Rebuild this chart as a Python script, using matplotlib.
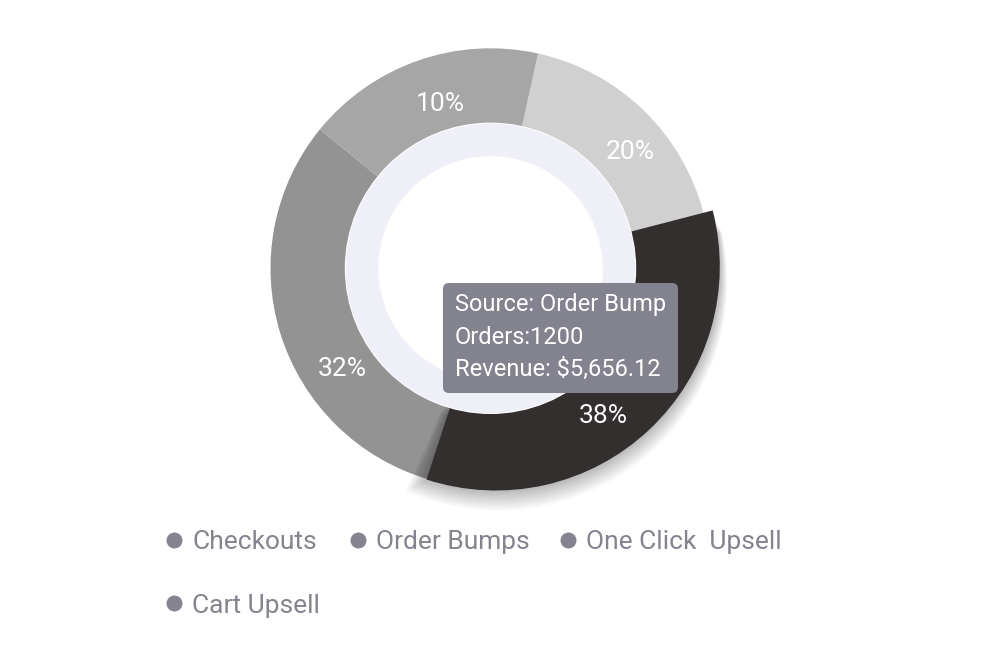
import numpy as np
import matplotlib.pyplot as plt
from matplotlib.patches import Circle, FancyBboxPatch, Wedge
from matplotlib.lines import Line2D

# data
sources = ["Checkouts", "Order Bumps", "One Click  Upsell", "Cart Upsell"]
shares = [17.5, 33.5, 31.4, 17.6]          # slice sizes as drawn (in %)
pct_labels = ["20%", "38%", "32%", "10%"]  # labels printed on the slices
slice_colors = ["#d0d0d0", "#332f2e", "#939393", "#a6a6a6"]
tip_lines = ["Source: Order Bump", "Orders:1200", "Revenue: $5,656.12"]
hovered = 1

plt.rcParams['font.family'] = ['Roboto', 'DejaVu Sans']

W, H = 984, 672
fig = plt.figure(figsize=(W / 100, H / 100), dpi=100)
ax = fig.add_axes([0, 0, 1, 1])

cx, cy = 490.5, H - 268.3
R, r_hole = 220, 144

wedges, _ = ax.pie(shares, colors=slice_colors, startangle=77.5, counterclock=False,
                   radius=R, center=(cx, cy),
                   wedgeprops=dict(width=R - r_hole + 4, linewidth=0))

# hovered slice pops out a bit
hw = wedges[hovered]
hc = (cx + 5.3, cy + 1.8)
hr = 224
hw.set_center(hc)
hw.set_radius(hr)
hw.set_width(hr - 138)
hw.set_theta1(hw.theta1 - 1.9)
hw.set_zorder(3)

# soft shadow under the hovered slice
for k in range(1, 18):
    sh = Wedge((hc[0] + 0.15 * k, hc[1] - 0.9 * k), hr + 0.3 * k,
               hw.theta1 - 0.35 * k, hw.theta2 - 2, width=hr - 138,
               facecolor="black", alpha=0.014, linewidth=0, zorder=2)
    ax.add_patch(sh)

# hole: lavender ring + white centre
ax.add_patch(Circle((cx, cy), r_hole + 1, color="white", zorder=4))
ax.add_patch(Circle((cx, cy), r_hole, color="#efeff7", zorder=5))
ax.add_patch(Circle((cx, cy), 111.5, color="white", zorder=6))

# percentage labels
label_polar = [(50.4, 182), (142.5, 186), (235.9, 179), (343.2, 172)]
for txt, (ang, rad) in zip(pct_labels, label_polar):
    a = np.deg2rad(ang)
    ax.text(cx + rad * np.sin(a), cy + rad * np.cos(a), txt, color="white",
            fontsize=19, ha="center", va="center", zorder=7)

# tooltip
ax.add_patch(FancyBboxPatch((443, H - 393), 235, 110,
                            boxstyle="round,pad=0,rounding_size=6",
                            facecolor="#83838f", edgecolor="none", zorder=10))
for i, line in enumerate(tip_lines):
    ax.text(455, H - 305 - 32 * i, line, color="white", fontsize=17,
            ha="left", va="center", zorder=11)

ax.set_xlim(0, W)
ax.set_ylim(0, H)
ax.set_aspect("equal")
ax.axis("off")

# legend, filled row by row (matplotlib fills by column)
order = [0, 3, 1, 2]
handles = [Line2D([], [], linestyle="none", marker="o", markersize=11.5,
                  markerfacecolor="#84838f", markeredgewidth=0) for _ in sources]
leg = fig.legend([handles[i] for i in order], [sources[i] for i in order],
                 loc="upper left", ncol=3, frameon=False,
                 bbox_to_anchor=(166 / W, 1 - 530 / H), fontsize=19,
                 handlelength=0.61, handletextpad=0.38, columnspacing=1.14,
                 labelspacing=1.5, borderpad=0, borderaxespad=0)
for t in leg.get_texts():
    t.set_color("#84838f")

fig.savefig("out.png", dpi=100, facecolor="white")
